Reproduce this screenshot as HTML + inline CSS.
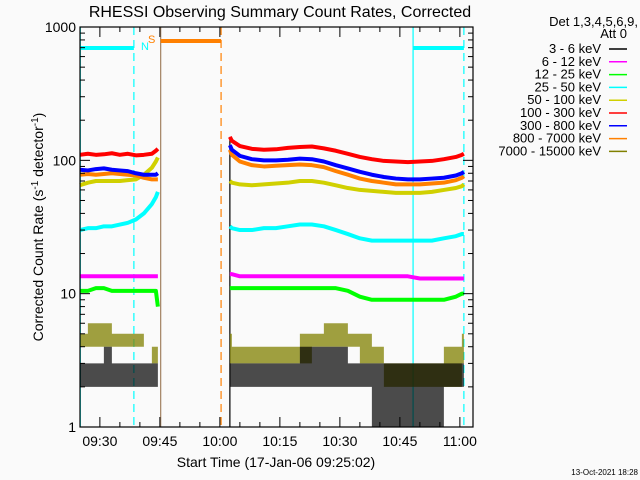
<!DOCTYPE html>
<html><head><meta charset="utf-8"><style>
body{margin:0;background:#fafafa;}
svg{display:block;font-family:"Liberation Sans",sans-serif;}
</style></head><body>
<svg id="c" width="640" height="480" viewBox="0 0 640 480">
<rect width="640" height="480" fill="#fafafa"/>
<text x="280" y="17" font-size="16" text-anchor="middle" fill="#000">RHESSI Observing Summary Count Rates, Corrected</text>
<g id="plot"></g>
<g id="axes"></g>
<text transform="translate(43,227) rotate(-90)" font-size="14" text-anchor="middle">Corrected Count Rate (s<tspan baseline-shift="super" font-size="10">-1</tspan> detector<tspan baseline-shift="super" font-size="10">-1</tspan>)</text>
<text x="276" y="467" font-size="14" text-anchor="middle">Start Time (17-Jan-06 09:25:02)</text>
<text x="638" y="475" font-size="8" text-anchor="end">13-Oct-2021 18:28</text>
<g id="legend" font-size="13" text-anchor="end"></g>
</svg>
<script>
const NS="http://www.w3.org/2000/svg";
const X0=80,X1=473,Y0=27,Y1=427;
const T0=25.03; // minutes after 09:00
function xs(t){return X0+(t-T0)*4;}
function ys(v){return Y1-133.33*Math.log10(v);}
function mk(tag,attrs,parent){const e=document.createElementNS(NS,tag);for(const k in attrs)e.setAttribute(k,attrs[k]);parent.appendChild(e);return e;}
const plot=document.getElementById('plot'),axes=document.getElementById('axes'),leg=document.getElementById('legend');

const t1=[25,27,29,31,33,35,37,39,41,43,44,44.5];
const t2=[62.5,63,65,68,71,74,77,80,83,86,89,92,95,98,101,104,107,110,113,116,119,120.5,121];
const red1=[110,112,110,111,113,110,112,109,110,112,118,122];
const red2=[150,140,128,122,120,121,124,126,127,123,118,112,106,102,99,98,97,98,99,102,106,110,112];
const blue1=[85,84,86,87,85,84,83,80,78,78,78,80];
const blue2=[130,120,108,102,100,100,101,103,102,98,92,87,82,78,75,73,72,72,73,74,77,80,82];
const orange1=[78,79,78,79,80,79,78,77,74,72,72,72];
const orange2=[120,110,98,92,90,91,92,93,92,89,83,78,73,70,68,66,66,66,67,68,71,74,76];
const yellow1=[65,68,70,70,70,70,71,72,78,88,98,105];
const yellow2=[70,68,66,65,66,67,68,70,70,68,65,62,60,59,58,57,57,57,58,60,62,64,66];
const cyan1=[30,31,31,32,32,33,34,36,40,47,53,58];
const cyan2=[32,31,30,30,31,31,32,33,33,32,30,28,26,25,25,25,25,25,25,26,27,28,28];
const mag1=[13.5,13.5,13.5,13.5,13.5,13.5,13.5,13.5,13.5,13.5,13.5,13.5];
const mag2=[14,14,13.5,13.5,13.5,13.5,13.5,13.5,13.5,13.5,13.5,13.5,13.5,13.5,13.5,13.5,13.5,13,13,13,13,13,13];
const green1=[10.5,10.5,11,11,10.5,10.5,10.5,10.5,10.5,10.5,10.5,8];
const green2=[11,11,11,11,11,11,11,11,11,11,11,10.5,9.5,9,9,9,9,9,9,9,9.5,10,10];
const oliveLo1=[4,4,4,4,4,4,4,4,4,3,3,3];
const oliveHi1=[5,6,6,6,5,5,5,5,4,4,4,4];
const oliveLo2=[3,3,3,3,3,3,3,3,4,4,4,4,3,3,2,2,2,2,2,2,2,3,3];
const oliveHi2=[5,4,4,4,4,4,4,5,5,6,6,5,5,4,3,3,3,3,3,4,4,5,5];
const blackLo1=[2,2,2,2,2,2,2,2,2,2,2,2];
const blackHi1=[3,3,3,4,3,3,3,3,3,3,3,3];
const blackLo2=[2,2,2,2,2,2,2,2,2,2,2,2,2,1,1,1,1,1,1,2,2,2,2];
const blackHi2=[3,3,3,3,3,3,3,4,4,4,4,3,3,3,3,3,3,3,3,3,3,3,3];
const yMajor=[1,10,100,1000];
const yMajorLbl=["1","10","100","1000"];
const xTickT=[30,45,60,75,90,105,120];
const xTickLbl=["09:30","09:45","10:00","10:15","10:30","10:45","11:00"];
const legendLbl=["3 - 6 keV","6 - 12 keV","12 - 25 keV","25 - 50 keV","50 - 100 keV","100 - 300 keV","300 - 800 keV","800 - 7000 keV","7000 - 15000 keV"];
const legendCol=["#000","#ff00ff","#00ff00","#00ffff","#d0d000","#ff0000","#0000ff","#ff8000","#808000"];

function vline(t,col,dash,name,ytop){const e=mk('line',{x1:xs(t),x2:xs(t),y1:ytop||Y0,y2:Y1,stroke:col,'stroke-width':1.2,'stroke-dasharray':dash||'none'},plot);

}
vline(25.1,'#00ffff','', 'saa-start-line');
vline(38.5,'#00ffff','8,5','night-start-line');
vline(45.2,'#a08060','','saa-orange-line');
vline(60.3,'#ff8000','8,5','saa-end-line');
vline(62.5,'#000','','data-resume-line',ys(150));
vline(108.3,'#00ffff','','night-end-line');
vline(121,'#00ffff','8,5','night-dash-right');
function hbar(a,b,y,col,name){const e=mk('line',{x1:xs(a),x2:xs(b),y1:y,y2:y,stroke:col,'stroke-width':4},plot);

}
hbar(25.03,38.5,48,'#00ffff','night-bar-left');
hbar(45.2,60.3,41,'#ff8000','saa-bar');
hbar(108.3,121,48,'#00ffff','night-bar-right');
let tN=mk('text',{x:141,y:50,fill:'#00ffff','font-size':11},plot);tN.textContent='N';


let tS=mk('text',{x:148,y:43,fill:'#ff8000','font-size':11},plot);tS.textContent='S';



function band(t,lo,hi,col,name,op){let p='';
for(let i=0;i<t.length;i++){const xa=xs(t[i]),xb=i+1<t.length?xs(t[i+1]):xs(t[i]);p+=xa+','+ys(hi[i])+' '+xb+','+ys(hi[i])+' ';}
for(let i=t.length-1;i>=0;i--){const xa=xs(t[i]),xb=i+1<t.length?xs(t[i+1]):xs(t[i]);p+=xb+','+ys(lo[i])+' '+xa+','+ys(lo[i])+' ';}
const e=mk('polygon',{points:p,fill:col,opacity:op},plot);

}
function line(t,v,col,name){const e=mk('polyline',{points:t.map((tt,i)=>xs(tt)+','+ys(v[i])).join(' '),fill:'none',stroke:col,'stroke-width':4,'stroke-linejoin':'round'},plot);

}
band(t1,oliveLo1,oliveHi1,'#808000','series-7000-15000-seg1',0.75);
band(t2,oliveLo2,oliveHi2,'#808000','series-7000-15000-seg2',0.75);
band(t1,blackLo1,blackHi1,'#000','series-3-6-seg1',0.7);
band(t2,blackLo2,blackHi2,'#000','series-3-6-seg2',0.7);
const S=[[green1,green2,'#00ff00','12-25'],[mag1,mag2,'#ff00ff','6-12'],[cyan1,cyan2,'#00ffff','25-50'],[yellow1,yellow2,'#d0d000','50-100'],[orange1,orange2,'#ff8000','800-7000'],[blue1,blue2,'#0000ff','300-800'],[red1,red2,'#ff0000','100-300']];
S.forEach(s=>{line(t1,s[0],s[2],'series-'+s[3]+'-seg1');line(t2,s[1],s[2],'series-'+s[3]+'-seg2');});

mk('rect',{x:X0,y:Y0,width:X1-X0,height:Y1-Y0,fill:'none',stroke:'#000','stroke-width':1.2},axes);
yMajor.forEach((v,i)=>{const y=ys(v);
mk('line',{x1:X0,x2:X0+10,y1:y,y2:y,stroke:'#000'},axes);mk('line',{x1:X1,x2:X1-10,y1:y,y2:y,stroke:'#000'},axes);
const tx=mk('text',{x:X0-4,y:y+5,'font-size':14,'text-anchor':'end'},axes);tx.textContent=yMajorLbl[i];


if(v<1000)for(let k=2;k<10;k++){const yy=ys(v*k);mk('line',{x1:X0,x2:X0+5,y1:yy,y2:yy,stroke:'#000'},axes);mk('line',{x1:X1,x2:X1-5,y1:yy,y2:yy,stroke:'#000'},axes);}
});
xTickT.forEach((t,i)=>{const x=xs(t);
mk('line',{x1:x,x2:x,y1:Y1,y2:Y1-10,stroke:'#000'},axes);mk('line',{x1:x,x2:x,y1:Y0,y2:Y0+10,stroke:'#000'},axes);
const tx=mk('text',{x:x,y:446,'font-size':14,'text-anchor':'middle'},axes);tx.textContent=xTickLbl[i];

});
for(let t=25;t<=123;t+=5){if(t%15===0)continue;const x=xs(t);if(x<X0||x>X1)continue;
mk('line',{x1:x,x2:x,y1:Y1,y2:Y1-5,stroke:'#000'},axes);mk('line',{x1:x,x2:x,y1:Y0,y2:Y0+5,stroke:'#000'},axes);}

let d1=mk('text',{x:638,y:26},leg);d1.textContent='Det 1,3,4,5,6,9,';


let d2=mk('text',{x:627,y:38},leg);d2.textContent='Att 0';


legendLbl.forEach((l,i)=>{const y=53+i*12.8;
const tx=mk('text',{x:601,y:y},leg);tx.textContent=l;


mk('line',{x1:609,x2:627,y1:y-4,y2:y-4,stroke:legendCol[i],'stroke-width':1.5},leg);});
</script>
</body></html>
